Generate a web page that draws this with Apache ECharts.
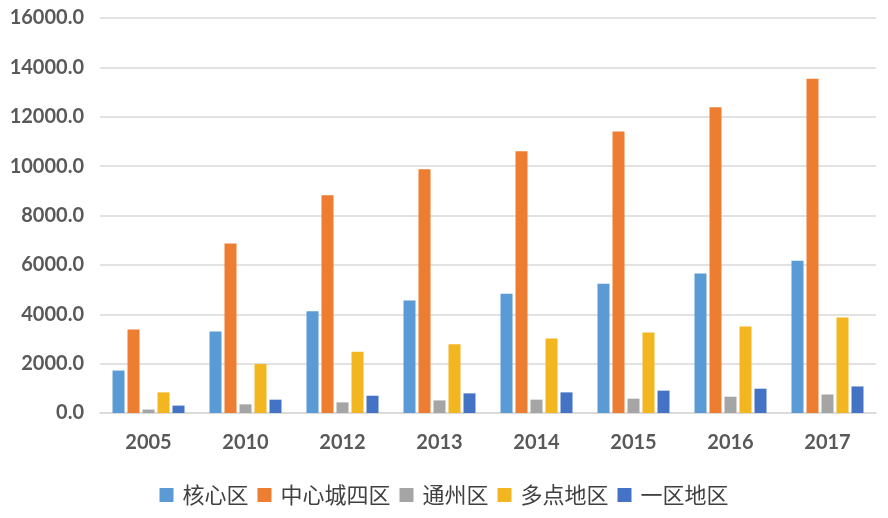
<!DOCTYPE html>
<html>
<head>
<meta charset="utf-8">
<script src="https://cdn.jsdelivr.net/npm/echarts@6/dist/echarts.min.js"></script>
<style>
html,body{margin:0;padding:0;background:#fff;}
#c{width:888px;height:518px;}
</style>
</head>
<body>
<div id="c"></div>
<script>
var categories = ['2005','2010','2012','2013','2014','2015','2016','2017'];
var seriesNames = ['核心区','中心城四区','通州区','多点地区','一区地区'];
var coreArea = [1720, 3300, 4120, 4560, 4830, 5240, 5650, 6170];
var centralFour = [3380, 6870, 8820, 9870, 10600, 11400, 12380, 13540];
var tongzhou = [140, 350, 430, 510, 540, 580, 660, 750];
var multiPoint = [835, 1985, 2480, 2780, 3020, 3265, 3505, 3870];
var zoneOne = [300, 540, 700, 795, 835, 905, 985, 1075];
var yTicks = {min: 0, max: 16000, interval: 2000};

var colors = ['#5B9BD5', '#ED7D31', '#A5A5A5', '#F2B620', '#4472C4'];
var allData = [coreArea, centralFour, tongzhou, multiPoint, zoneOne];

var chart = echarts.init(document.getElementById('c'), null, {renderer: 'canvas'});
chart.setOption({
  animation: false,
  color: colors,
  grid: {left: 100, right: 12, top: 18, bottom: 105, containLabel: false},
  legend: {
    bottom: 7,
    left: 'center',
    itemWidth: 14,
    itemHeight: 14,
    itemGap: 9,
    icon: 'rect',
    textStyle: {fontFamily: '"Noto Sans CJK SC"', fontSize: 22, color: '#404040', padding: [0, 0, 0, 4]},
    data: seriesNames
  },
  xAxis: {
    type: 'category',
    data: categories,
    axisLine: {show: true, lineStyle: {color: '#D9D9D9', width: 1.5}},
    axisTick: {show: false},
    axisLabel: {fontFamily: 'Lato', fontWeight: 'bold', fontSize: 20, color: '#595959', margin: 20}
  },
  yAxis: {
    type: 'value',
    min: yTicks.min,
    max: yTicks.max,
    interval: yTicks.interval,
    axisLine: {show: false},
    axisTick: {show: false},
    splitLine: {lineStyle: {color: '#D9D9D9', width: 1.5}},
    axisLabel: {
      fontFamily: 'Lato', fontWeight: 'bold', fontSize: 20, color: '#595959', margin: 16,
      formatter: function (v) { return v.toFixed(1); }
    }
  },
  series: seriesNames.map(function (name, i) {
    return {
      name: name,
      type: 'bar',
      data: allData[i],
      barWidth: 12,
      barGap: '25%',
      itemStyle: {color: colors[i]}
    };
  })
});
</script>
</body>
</html>
